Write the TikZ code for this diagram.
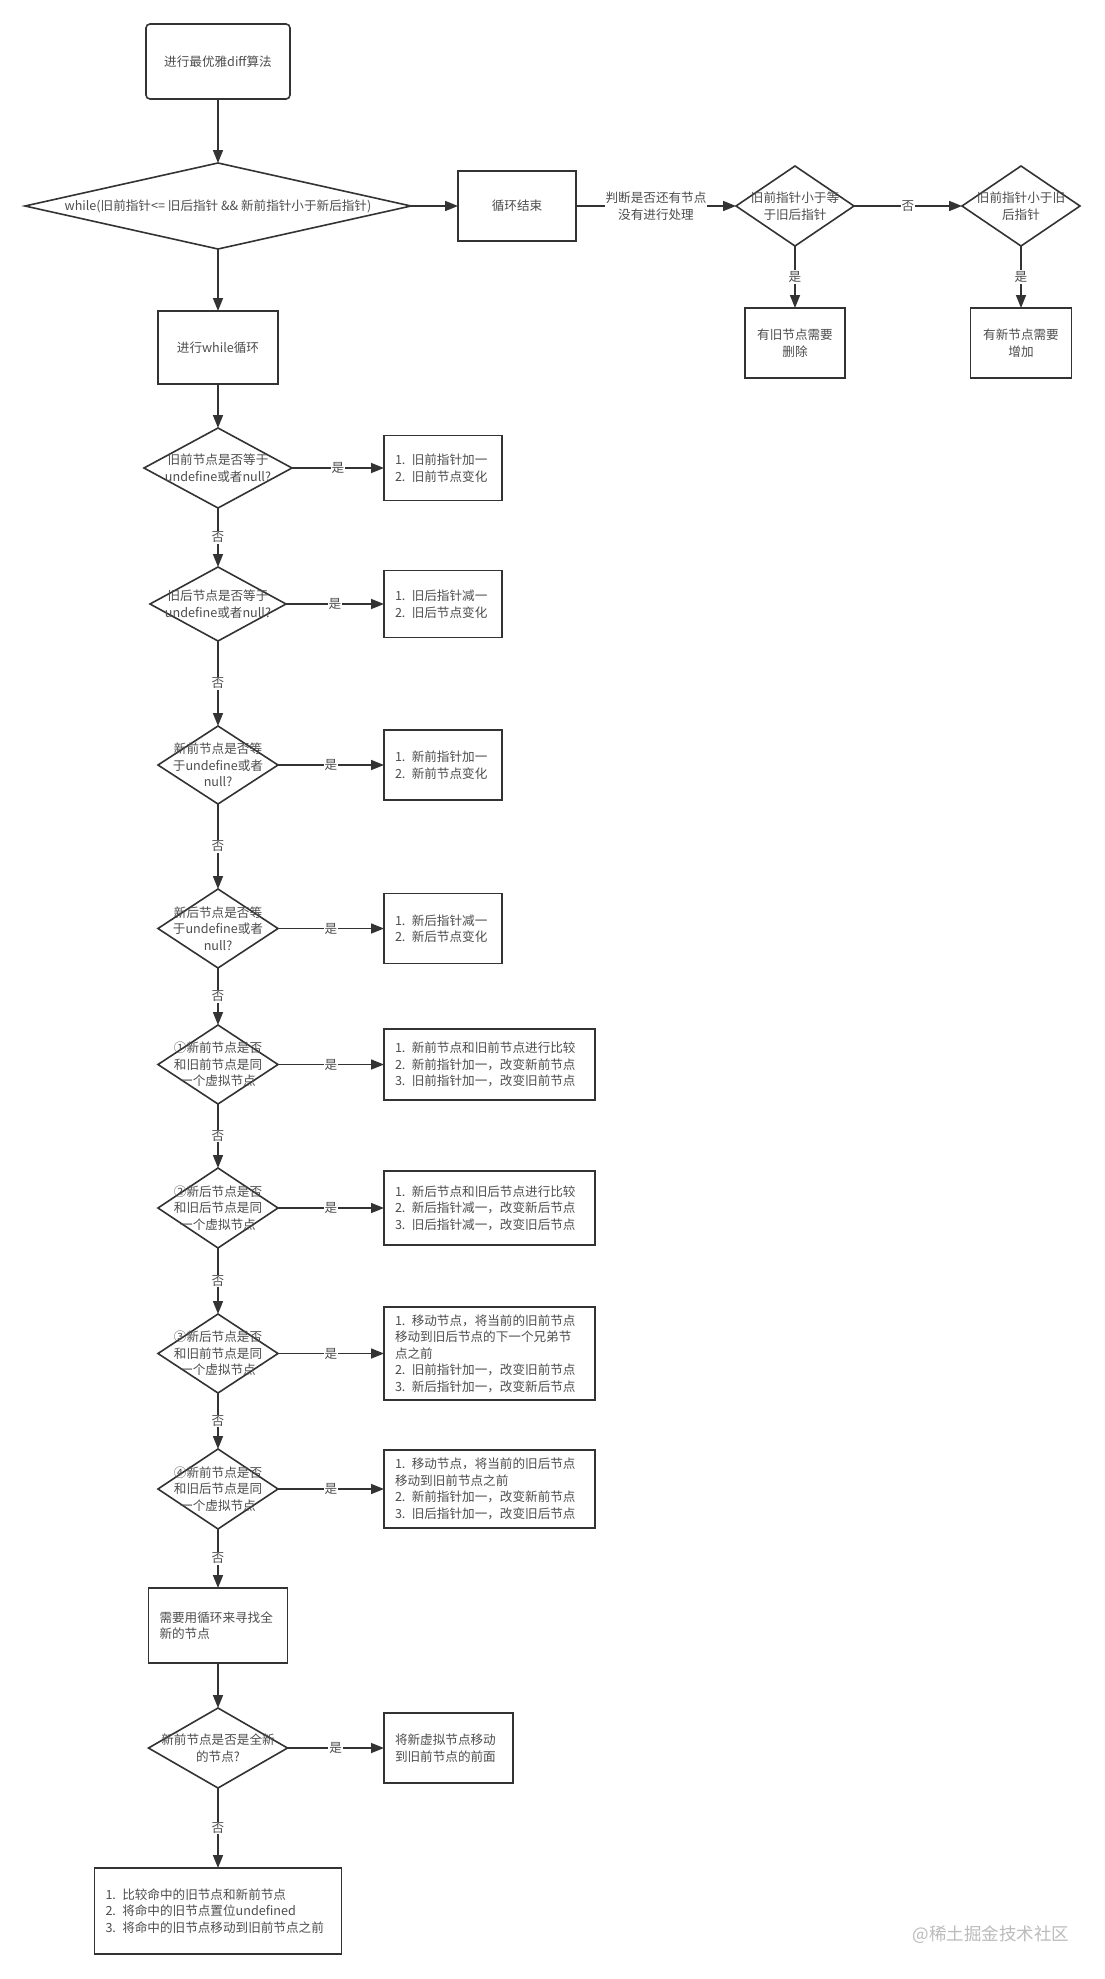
\documentclass[tikz,border=0pt]{standalone}
\usepackage{fontspec}
\setmainfont{Noto Sans CJK SC}
\usetikzlibrary{arrows.meta,positioning,shapes.geometric}
\definecolor{linegray}{HTML}{333333}
\definecolor{txtgray}{HTML}{4D4D4D}
\definecolor{markgray}{HTML}{BBBBBB}

\begin{document}
\begin{tikzpicture}[
  x=1pt, y=-1pt,
  font=\fontsize{12.6pt}{16.5pt}\selectfont, >={Triangle[length=13pt,width=10pt]},
  flow/.style={draw=linegray, line width=1.6pt, ->},
  procbox/.style 2 args={draw=linegray, line width=1.6pt, text=txtgray, align=center, minimum width=#1, minimum height=#2, inner sep=2pt, outer sep=0pt},
  notebox/.style 2 args={draw=linegray, line width=1.6pt, text=txtgray, align=left, text width=#1, minimum height=#2, inner xsep=11pt, inner ysep=2pt, outer sep=0pt},
  decide/.style 2 args={draw=linegray, line width=1.6pt, diamond, minimum width=#1, minimum height=#2, inner sep=0pt, outer sep=0pt},
  dtext/.style={text=txtgray, align=center, inner sep=0pt},
  yesno/.style={fill=white, text=txtgray, align=center, inner sep=1pt},
]
\path[use as bounding box, fill=white] (0,0) rectangle (1105,1979);

% loop condition; once it fails, the leftovers are sorted out on the right
\node[procbox={144pt}{75pt}, rounded corners=4pt] (start) at (218,61.5) {进行最优雅diff算法};
\node[decide={386pt}{86pt}, below=64pt of start,
  label={[dtext]center:{while(旧前指针<= 旧后指针 \&\& 新前指针小于新后指针)}}] (cond) {};
\node[procbox={118pt}{70pt}, right=47pt of cond] (done) {循环结束};
\node[decide={118pt}{80pt}, right=160pt of done, label={[dtext]center:{旧前指针小于等\\于旧后指针}}] (oldleft) {};
\node[decide={118pt}{80pt}, right=108pt of oldleft, label={[dtext]center:{旧前指针小于旧\\后指针}}] (oldless) {};
\node[procbox={100pt}{70pt}, below=62pt of oldleft] (delold) {有旧节点需要\\删除};
\node[procbox={101pt}{70pt}, below=62pt of oldless] (addnew) {有新节点需要\\增加};

% loop body: the four null checks
\node[procbox={120pt}{73pt}, below=62pt of cond] (body) {进行while循环};
\node[decide={148pt}{80pt}, below=44pt of body, label={[dtext]center:{旧前节点是否等于\\undefine或者null?}}] (osnull) {};
\node[decide={136pt}{74pt}, below=59pt of osnull, label={[dtext]center:{旧后节点是否等于\\undefine或者null?}}] (oenull) {};
\node[decide={120pt}{78pt}, below=85pt of oenull, label={[dtext]center:{新前节点是否等\\于undefine或者\\null?}}] (nsnull) {};
\node[decide={120pt}{79pt}, below=85pt of nsnull, label={[dtext]center:{新后节点是否等\\于undefine或者\\null?}}] (nenull) {};
\node[notebox={96pt}{65pt}, right=92pt of osnull] (osstep) {1. 旧前指针加一\\2. 旧前节点变化};
\node[notebox={96pt}{67pt}, right=98pt of oenull] (oestep) {1. 旧后指针减一\\2. 旧后节点变化};
\node[notebox={96pt}{70pt}, right=106pt of nsnull] (nsstep) {1. 新前指针加一\\2. 新前节点变化};
\node[notebox={96pt}{70pt}, right=106pt of nenull] (nestep) {1. 新后指针减一\\2. 新后节点变化};

% the four same-vnode comparisons
\node[decide={120pt}{79pt}, below=57pt of nenull, label={[dtext]center:{①新前节点是否\\和旧前节点是同\\一个虚拟节点}}] (same1) {};
\node[decide={120pt}{80pt}, below=64pt of same1, label={[dtext]center:{②新后节点是否\\和旧后节点是同\\一个虚拟节点}}] (same2) {};
\node[decide={120pt}{79pt}, below=66pt of same2, label={[dtext]center:{③新后节点是否\\和旧前节点是同\\一个虚拟节点}}] (same3) {};
\node[decide={120pt}{80pt}, below=56pt of same3, label={[dtext]center:{④新前节点是否\\和旧后节点是同\\一个虚拟节点}}] (same4) {};
\node[notebox={189pt}{71pt}, right=106pt of same1] (step1) {1. 新前节点和旧前节点进行比较\\2. 新前指针加一，改变新前节点\\3. 旧前指针加一，改变旧前节点};
\node[notebox={189pt}{74pt}, right=106pt of same2] (step2) {1. 新后节点和旧后节点进行比较\\2. 新后指针减一，改变新后节点\\3. 旧后指针减一，改变旧后节点};
\node[notebox={189pt}{93pt}, right=106pt of same3] (step3) {1. 移动节点，将当前的旧前节点\\移动到旧后节点的下一个兄弟节\\点之前\\2. 旧前指针加一，改变旧前节点\\3. 新后指针加一，改变新后节点};
\node[notebox={189pt}{78pt}, right=106pt of same4] (step4) {1. 移动节点，将当前的旧后节点\\移动到旧前节点之前\\2. 新前指针加一，改变新前节点\\3. 旧后指针加一，改变旧后节点};

% nothing matched: search the old children
\node[notebox={117pt}{75pt}, below=59pt of same4] (search) {需要用循环来寻找全\\新的节点};
\node[decide={139pt}{80pt}, below=45pt of search, label={[dtext]center:{新前节点是否是全新\\的节点?}}] (isnew) {};
\node[notebox={107pt}{70pt}, right=96.5pt of isnew] (movenew) {将新虚拟节点移动\\到旧前节点的前面};
\node[notebox={225pt}{86pt}, below=80pt of isnew] (moveold) {1. 比较命中的旧节点和新前节点\\2. 将命中的旧节点置位undefined\\3. 将命中的旧节点移动到旧前节点之前};

\node[font=\fontsize{17.5pt}{20pt}\selectfont, text=markgray] (mark) at (991,1935) {@稀土掘金技术社区};

% connectors
\draw[flow] (start) -- (cond);
\draw[flow] (cond) -- (body);
\draw[flow] (cond) -- (done);
\draw[flow] (done) -- node[yesno]{判断是否还有节点\\没有进行处理} (oldleft);
\draw[flow] (oldleft) -- node[yesno]{否} (oldless);
\draw[flow] (oldleft) -- node[yesno]{是} (delold);
\draw[flow] (oldless) -- node[yesno]{是} (addnew);
\draw[flow] (body) -- (osnull);
\draw[flow] (osnull) -- node[yesno]{否} (oenull);
\draw[flow] (oenull) -- node[yesno]{否} (nsnull);
\draw[flow] (nsnull) -- node[yesno]{否} (nenull);
\draw[flow] (nenull) -- node[yesno]{否} (same1);
\draw[flow] (same1) -- node[yesno]{否} (same2);
\draw[flow] (same2) -- node[yesno]{否} (same3);
\draw[flow] (same3) -- node[yesno]{否} (same4);
\draw[flow] (same4) -- node[yesno]{否} (search);
\draw[flow] (search) -- (isnew);
\draw[flow] (isnew) -- node[yesno]{否} (moveold);
\draw[flow] (osnull) -- node[yesno]{是} (osstep);
\draw[flow] (oenull) -- node[yesno]{是} (oestep);
\draw[flow] (nsnull) -- node[yesno]{是} (nsstep);
\draw[flow] (nenull) -- node[yesno]{是} (nestep);
\draw[flow] (same1) -- node[yesno]{是} (step1);
\draw[flow] (same2) -- node[yesno]{是} (step2);
\draw[flow] (same3) -- node[yesno]{是} (step3);
\draw[flow] (same4) -- node[yesno]{是} (step4);
\draw[flow] (isnew) -- node[yesno]{是} (movenew);

\end{tikzpicture}
\end{document}
